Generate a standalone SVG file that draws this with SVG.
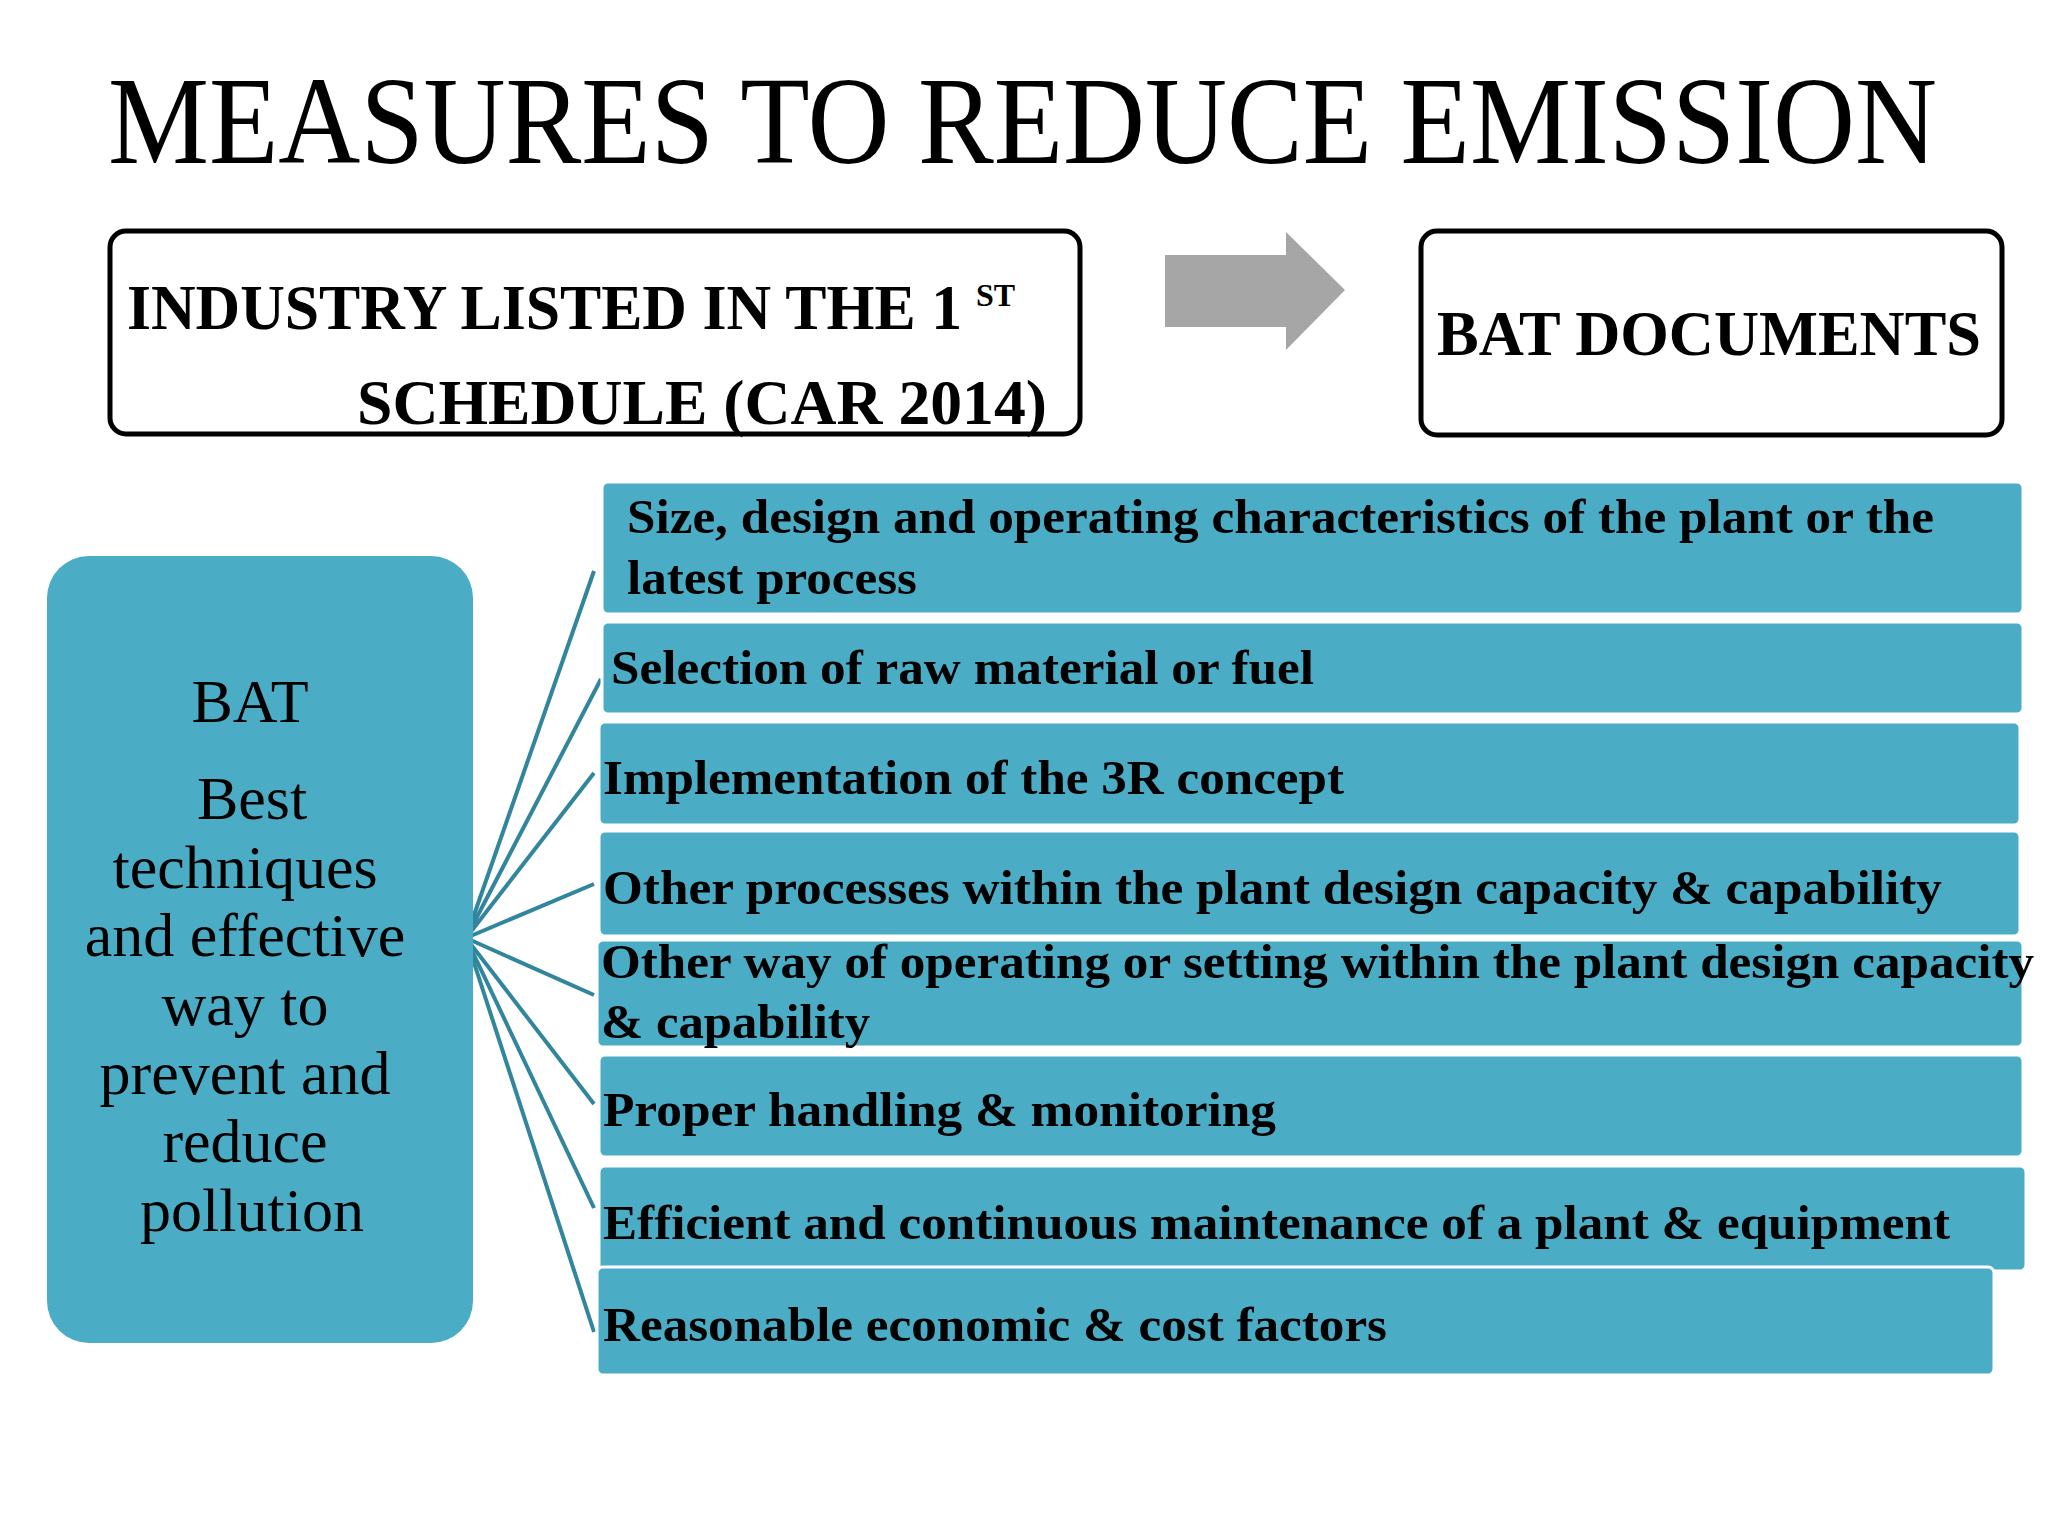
<svg xmlns="http://www.w3.org/2000/svg" width="2048" height="1536" viewBox="0 0 2048 1536">
<style>
.t{font-family:"Liberation Serif","Times New Roman",serif;fill:#000}
.b{font-weight:bold;font-size:48px}
.hb{font-weight:bold;font-size:64px}
.l{font-size:62px;text-anchor:middle}
.box{fill:#fff;stroke:#000;stroke-width:5}
.item{fill:#4bacc6;stroke:#fff;stroke-width:3}
.con{stroke:#31859c;stroke-width:4;fill:none}
</style>
<rect width="2048" height="1536" fill="#fff"/>
<text class="t" x="108" y="163" font-size="124" textLength="1829" lengthAdjust="spacingAndGlyphs">MEASURES TO REDUCE EMISSION</text>
<g id="industry">
<rect class="box" x="110" y="231" width="970" height="203" rx="16"/>
<text class="t hb" x="127" y="329" textLength="835" lengthAdjust="spacingAndGlyphs">INDUSTRY LISTED IN THE 1</text>
<text class="t" x="976" y="306" font-weight="bold" font-size="32">ST</text>
<text class="t hb" x="357" y="424" textLength="690" lengthAdjust="spacingAndGlyphs">SCHEDULE  (CAR 2014)</text>
</g>
<g id="arrow">
<polygon points="1165,255 1286,255 1286,232 1345,290 1286,350 1286,327 1165,327" fill="#a6a6a6"/>
</g>
<g id="batdocs">
<rect class="box" x="1421" y="231" width="581" height="204" rx="16"/>
<text class="t hb" x="1437" y="355" textLength="544" lengthAdjust="spacingAndGlyphs">BAT DOCUMENTS</text>
</g>
<g id="connectors">
<line class="con" x1="466" y1="938" x2="594" y2="571"/>
<line class="con" x1="466" y1="938" x2="601" y2="679"/>
<line class="con" x1="466" y1="938" x2="594" y2="773"/>
<line class="con" x1="466" y1="938" x2="594" y2="884"/>
<line class="con" x1="466" y1="938" x2="594" y2="995"/>
<line class="con" x1="466" y1="938" x2="594" y2="1104"/>
<line class="con" x1="466" y1="938" x2="594" y2="1208"/>
<line class="con" x1="466" y1="938" x2="594" y2="1332"/>
</g>
<g id="bat">
<rect x="47" y="556" width="426" height="787" rx="42" fill="#4bacc6"/>
<text class="t l" x="250" y="722">BAT</text>
<text class="t l" x="252" y="819">Best</text>
<text class="t l" x="245" y="888">techniques</text>
<text class="t l" x="245" y="956">and effective</text>
<text class="t l" x="245" y="1025">way to</text>
<text class="t l" x="245" y="1094">prevent and</text>
<text class="t l" x="245" y="1162">reduce</text>
<text class="t l" x="252" y="1231">pollution</text>
</g>
<g id="i1"><rect class="item" x="602" y="482" width="1421" height="132" rx="6"/>
<text class="t b" x="627" y="533" textLength="1307" lengthAdjust="spacingAndGlyphs">Size, design and operating characteristics of the plant or the</text>
<text class="t b" x="627" y="594" textLength="290" lengthAdjust="spacingAndGlyphs">latest process</text></g>
<g id="i2"><rect class="item" x="602" y="622" width="1421" height="92" rx="6"/>
<text class="t b" x="611" y="684" textLength="703" lengthAdjust="spacingAndGlyphs">Selection of raw material or fuel</text></g>
<g id="i3"><rect class="item" x="599" y="722" width="1421" height="103" rx="6"/>
<text class="t b" x="603" y="794" textLength="741" lengthAdjust="spacingAndGlyphs">Implementation of the 3R concept</text></g>
<g id="i4"><rect class="item" x="599" y="831" width="1421" height="105" rx="6"/>
<text class="t b" x="603" y="904" textLength="1339" lengthAdjust="spacingAndGlyphs">Other processes within the plant design capacity &amp; capability</text></g>
<g id="i5"><rect class="item" x="597" y="940" width="1426" height="107" rx="6"/>
<text class="t b" x="601" y="978" textLength="1433" lengthAdjust="spacingAndGlyphs">Other way of operating or setting within the plant design capacity</text>
<text class="t b" x="601" y="1038" textLength="269" lengthAdjust="spacingAndGlyphs">&amp; capability</text></g>
<g id="i6"><rect class="item" x="599" y="1055" width="1424" height="102" rx="6"/>
<text class="t b" x="603" y="1126" textLength="673" lengthAdjust="spacingAndGlyphs">Proper handling &amp; monitoring</text></g>
<g id="i7"><rect class="item" x="599" y="1166" width="1427" height="105" rx="6"/>
<text class="t b" x="603" y="1239" textLength="1347" lengthAdjust="spacingAndGlyphs">Efficient and continuous maintenance of a plant &amp; equipment</text></g>
<g id="i8"><rect class="item" x="597" y="1267" width="1397" height="108" rx="6"/>
<text class="t b" x="603" y="1341" textLength="784" lengthAdjust="spacingAndGlyphs">Reasonable economic &amp; cost factors</text></g>
</svg>
